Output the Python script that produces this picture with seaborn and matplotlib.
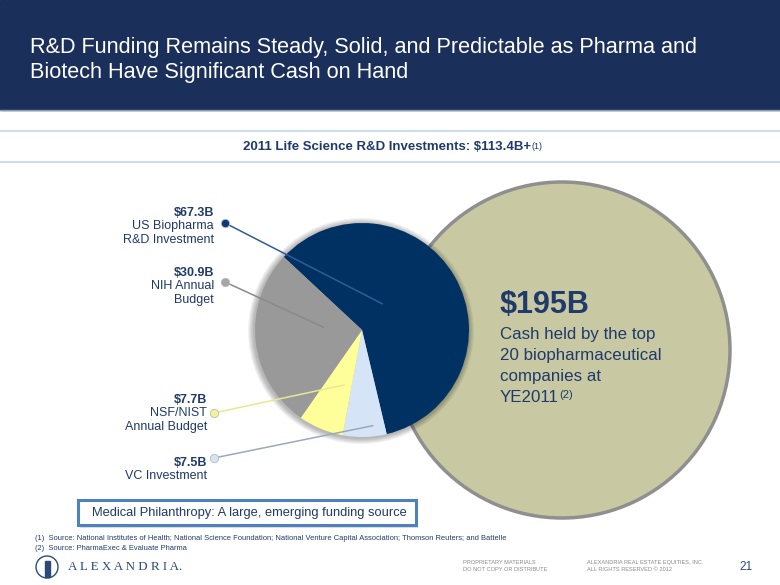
import matplotlib
matplotlib.use("Agg")
import matplotlib.pyplot as plt
from matplotlib.patches import Circle, Rectangle
import numpy as np
import seaborn as sns

# ---- data -------------------------------------------------------------
segments = ["US Biopharma\nR&D Investment", "VC Investment", "NSF/NIST\nAnnual Budget", "NIH Annual\nBudget"]
funding_b = [67.3, 7.5, 7.7, 30.9]
slice_colors = ["#003163", "#D5E5F7", "#FFFF99", "#999999"]
total_b = 113.4
cash_b = 195

title = "R&D Funding Remains Steady, Solid, and Predictable as Pharma and\nBiotech Have Significant Cash on Hand"
subtitle = f"2011 Life Science R&D Investments: ${total_b}B+"
cash_lines = ["Cash held by the top", "20 biopharmaceutical", "companies at", "YE2011"]
box_text = "Medical Philanthropy: A large, emerging funding source"
footnotes = ["(1)  Source: National Institutes of Health; National Science Foundation; National Venture Capital Association; Thomson Reuters; and Battelle",
             "(2)  Source: PharmaExec & Evaluate Pharma"]

# label placement (image px): text right edge x, top y, dot x, dot y, leader angle, leader radius frac
label_pos = {
    "US Biopharma\nR&D Investment": (214, 213, 225, 223, 52, 0.31, "#2F5C98", "#0B3A78"),
    "NIH Annual\nBudget": (214, 273, 225, 282, 176, 0.36, "#8A8A8A", "#A6A6A6"),
    "NSF/NIST\nAnnual Budget": (207, 400, 214, 413, -108, 0.54, "#E8E890", "#F2F29A"),
    "VC Investment": (207, 463, 214, 458, -83.5, 0.90, "#9AA9BB", "#D5E5F7"),
}

W, H = 780, 585
NAVY = "#1F3A6B"


def Y(y):
    return H - y


sns.set_theme(style="white")
plt.rcParams["font.family"] = ["Liberation Sans", "DejaVu Sans"]

fig = plt.figure(figsize=(7.8, 5.85), dpi=100)
ax = fig.add_axes([0, 0, 1, 1])

# header band
ax.add_patch(Rectangle((0, Y(110)), W, 110, color="#1B2F5B", zorder=1))
ax.plot([0, W], [Y(110), Y(110)], color="#8C9AB4", lw=1, zorder=2)
ax.text(30, Y(60), title, color="white", fontsize=15.6, va="center", ha="left", linespacing=1.3)

# subtitle with rules
for yy in (131, 162):
    ax.plot([0, W], [Y(yy), Y(yy)], color="#BFD7F2", lw=1.2, zorder=2)
sub = ax.text(243, Y(147), subtitle, color=NAVY, fontsize=9.5, fontweight="bold", va="center", ha="left")

# big cash circle
pie_c = (362, Y(330))
pie_r = 107
ax.add_patch(Circle((562, Y(350)), 168, facecolor="#C8C9A2", edgecolor="#8F8F8F", lw=2.5, zorder=3))

# soft shadow around the pie, slightly offset down-left
for k in range(1, 7):
    ax.add_patch(Circle((pie_c[0] - 1, pie_c[1] - 1), pie_r + k, color="black", alpha=0.05, lw=0, zorder=4))

wedges, _ = ax.pie(funding_b, colors=slice_colors, startangle=137, counterclock=False,
                   center=pie_c, radius=pie_r, wedgeprops=dict(linewidth=0))
for w in wedges:
    w.set_zorder(5)

# labels with leader lines
for seg, val in zip(segments, funding_b):
    tx, ty, dx, dy, ang, rf, lcol, dcol = label_pos[seg]
    ex = pie_c[0] + rf * pie_r * np.cos(np.radians(ang))
    ey = pie_c[1] + rf * pie_r * np.sin(np.radians(ang))
    ax.plot([dx, ex], [Y(dy), ey], color=lcol, lw=1.1, zorder=6)
    ax.plot(dx, Y(dy), "o", ms=6, color=dcol, mec="#BBBBBB", mew=0.6, zorder=7)
    ax.text(tx, Y(ty), f"${val}B", color=NAVY, fontsize=9, fontweight="bold", ha="right", va="center")
    ax.text(tx, Y(ty + 7), seg, color=NAVY, fontsize=9, ha="right", va="top", linespacing=1.25)

# cash text
ax.text(500, Y(305), f"${cash_b}B", color=NAVY, fontsize=22, fontweight="bold", ha="left", va="center", zorder=8)
for i, line in enumerate(cash_lines):
    t = ax.text(500, Y(334 + 21.3 * i), line, color=NAVY, fontsize=12.2, ha="left", va="center", zorder=8)
last = t

# philanthropy box
ax.add_patch(Rectangle((80, Y(528)), 338, 28, facecolor="#C8C8C8", edgecolor="none", alpha=0.6, zorder=8))
ax.add_patch(Rectangle((78, Y(525)), 338, 25, facecolor="white", edgecolor="#4F81BD", lw=2.2, zorder=9))
ax.text(249, Y(513), box_text, color=NAVY, fontsize=9.3, ha="center", va="center", zorder=10)

# footnotes
ax.text(35, Y(538), footnotes[0], color=NAVY, fontsize=5.45, ha="left", va="center")
ax.text(35, Y(548), footnotes[1], color=NAVY, fontsize=5.45, ha="left", va="center")

# footer logo + texts
ax.add_patch(Circle((47, Y(567)), 11, facecolor="white", edgecolor="#2B4A7A", lw=1, zorder=8))
ax.add_patch(Rectangle((44.5, Y(577)), 5, 16, color="#2B4A7A", zorder=9))
ax.text(68, Y(567), "A L E X A N D R I A.", family=["Liberation Serif"], color="#2B4A7A",
        fontsize=9.4, ha="left", va="center")
ax.text(463, Y(566), "PROPRIETARY MATERIALS\nDO NOT COPY OR DISTRIBUTE", color="#8A8A8A",
        fontsize=4.1, ha="left", va="center", linespacing=1.4)
ax.text(587, Y(566), "ALEXANDRIA REAL ESTATE EQUITIES, INC.\nALL RIGHTS RESERVED \u00a9 2012", color="#8A8A8A",
        fontsize=4.1, ha="left", va="center", linespacing=1.4)
ax.text(739, Y(567), "21", color="#2B4A7A", fontsize=8.5, ha="left", va="center")

ax.set_xlim(0, W)
ax.set_ylim(0, H)
ax.set_aspect("equal")
ax.axis("off")

# superscripts placed after measuring rendered text
fig.canvas.draw()
r = fig.canvas.get_renderer()
bb = sub.get_window_extent(r)
ax.text(bb.x1 + 0.5, bb.y1 - 1, "(1)", color=NAVY, fontsize=6.5, ha="left", va="top")
lb = last.get_window_extent(r)
ax.text(lb.x1 + 0.5, lb.y1, "(2)", color=NAVY, fontsize=8, ha="left", va="top", zorder=8)

fig.savefig("out.png", dpi=100)
plt.close(fig)
